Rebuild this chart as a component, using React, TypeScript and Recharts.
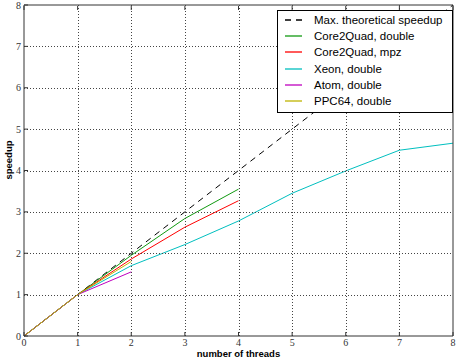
import React from 'react';
import { LineChart, Line, XAxis, YAxis } from 'recharts';

const threads = [0, 1, 2, 3, 4, 5, 6, 7, 8];
const theoretical = [0, 1, 2, 3, 4, 5, 6, 7, 8];
const core2quadDouble = [0, 1, 1.95, 2.84, 3.55];
const core2quadMpz = [0, 1, 1.86, 2.63, 3.27];
const xeonDouble = [0, 1, 1.7, 2.21, 2.78, 3.45, 3.99, 4.49, 4.66];
const atomDouble = [0, 1, 1.55];
const ppc64Double = [0, 1, 1.8];
const tickValues = [0, 1, 2, 3, 4, 5, 6, 7, 8];

const series = [
  { key: 'theo', name: 'Max. theoretical speedup', values: theoretical, color: '#000000', dash: '6 5' },
  { key: 'c2d', name: 'Core2Quad, double', values: core2quadDouble, color: '#119a11', dash: undefined },
  { key: 'c2m', name: 'Core2Quad, mpz', values: core2quadMpz, color: '#ff0000', dash: undefined },
  { key: 'xeon', name: 'Xeon, double', values: xeonDouble, color: '#00bfbf', dash: undefined },
  { key: 'atom', name: 'Atom, double', values: atomDouble, color: '#bf00bf', dash: undefined },
  { key: 'ppc', name: 'PPC64, double', values: ppc64Double, color: '#bfb400', dash: undefined },
];

const data = threads.map((t, i) => {
  const row: any = { t };
  series.forEach((s) => {
    row[s.key] = i < s.values.length ? s.values[i] : undefined;
  });
  return row;
});

const CHART_W = 458;
const CHART_H = 360;
const MARGIN = { top: 4, right: 4, left: 0, bottom: 0 };
const X_AXIS_H = 24;
const TOP_AXIS_H = 1;
const Y_AXIS_W = 24;
const RIGHT_AXIS_W = 1;
const PLOT_H = CHART_H - MARGIN.top - MARGIN.bottom - X_AXIS_H - TOP_AXIS_H;
const PLOT_W = CHART_W - MARGIN.left - MARGIN.right - Y_AXIS_W - RIGHT_AXIS_W;

const TICK_COLOR = '#333';
const FRAME = '#333';
const GRID = '#444';
const M = 3;
const isInner = (v: number) => v > tickValues[0] && v < tickValues[tickValues.length - 1];
const crisp = (v: number) => Math.round(v) + 0.5;

const BottomTick = (props: any) => {
  const { x, y, payload } = props;
  const axisY = y - M;
  const cx = crisp(x);
  return (
    <g>
      {isInner(payload.value) && (
        <path d={`M${cx},${axisY} L${cx},${axisY - PLOT_H}`} stroke={GRID} strokeWidth={1} strokeDasharray="1 2" fill="none" />
      )}
      <line x1={x} x2={x} y1={axisY} y2={axisY - 4} stroke={FRAME} strokeWidth={1} />
      <text x={x} y={y} dy="0.71em" textAnchor="middle" fontFamily="'Liberation Serif', serif" fontSize={10} fill={TICK_COLOR}>
        {payload.value}
      </text>
    </g>
  );
};

const LeftTick = (props: any) => {
  const { x, y, payload } = props;
  const axisX = x + M;
  const cy = crisp(y);
  return (
    <g>
      {isInner(payload.value) && (
        <path d={`M${axisX},${cy} L${axisX + PLOT_W},${cy}`} stroke={GRID} strokeWidth={1} strokeDasharray="1 2" fill="none" />
      )}
      <line x1={axisX} x2={axisX + 4} y1={y} y2={y} stroke={FRAME} strokeWidth={1} />
      <text x={x} y={y} dy="0.355em" textAnchor="end" fontFamily="'Liberation Serif', serif" fontSize={10} fill={TICK_COLOR}>
        {payload.value}
      </text>
    </g>
  );
};

const TopTick = (props: any) => {
  const { x, y } = props;
  const axisY = y + M - 1 + TOP_AXIS_H;
  return <line x1={x} x2={x} y1={axisY} y2={axisY + 4} stroke={FRAME} strokeWidth={1} />;
};

const RightTick = (props: any) => {
  const { x, y } = props;
  const axisX = x - M;
  return <line x1={axisX} x2={axisX - 4} y1={y} y2={y} stroke={FRAME} strokeWidth={1} />;
};

const LegendBox = () => (
  <div
    style={{
      position: 'absolute',
      left: 277,
      top: 10,
      width: 176,
      height: 103,
      boxSizing: 'border-box',
      border: '1px solid #000',
      background: '#fff',
      paddingTop: 1,
      fontFamily: "'Liberation Sans', Arial, sans-serif",
      fontSize: 11.5,
      color: '#000',
    }}
  >
    {series.map((s) => (
      <div key={s.key} style={{ height: 16.2, display: 'flex', alignItems: 'center' }}>
        <svg width={17} height={6} style={{ marginLeft: 7, display: 'block' }}>
          <line x1={0} x2={17} y1={3} y2={3} stroke={s.color} strokeWidth={1.3} strokeDasharray={s.dash} />
        </svg>
        <span style={{ marginLeft: 12, whiteSpace: 'nowrap', lineHeight: '16px' }}>{s.name}</span>
      </div>
    ))}
  </div>
);

export default function App() {
  return (
    <div style={{ position: 'absolute', left: 0, top: 0, width: CHART_W, height: CHART_H, background: '#fff' }}>
      <LineChart width={CHART_W} height={CHART_H} data={data} margin={MARGIN}>
        <XAxis
          xAxisId={0}
          dataKey="t"
          type="number"
          domain={[0, 8]}
          ticks={tickValues}
          height={X_AXIS_H}
          tickSize={0}
          tickMargin={M}
          tickLine={false}
          axisLine={{ stroke: FRAME, strokeWidth: 1 }}
          tick={<BottomTick />}
          interval={0}
        />
        <XAxis
          xAxisId="top"
          orientation="top"
          dataKey="t"
          type="number"
          domain={[0, 8]}
          ticks={tickValues}
          height={TOP_AXIS_H}
          tickSize={0}
          tickMargin={M - 1}
          tickLine={false}
          axisLine={{ stroke: FRAME, strokeWidth: 1 }}
          tick={<TopTick />}
          interval={0}
        />
        <YAxis
          yAxisId={0}
          type="number"
          domain={[0, 8]}
          ticks={tickValues}
          width={Y_AXIS_W}
          tickSize={0}
          tickMargin={M}
          tickLine={false}
          axisLine={{ stroke: FRAME, strokeWidth: 1 }}
          tick={<LeftTick />}
          interval={0}
        />
        <YAxis
          yAxisId="right"
          orientation="right"
          type="number"
          domain={[0, 8]}
          ticks={tickValues}
          width={RIGHT_AXIS_W}
          tickSize={0}
          tickMargin={M}
          tickLine={false}
          axisLine={{ stroke: FRAME, strokeWidth: 1 }}
          tick={<RightTick />}
          interval={0}
        />
        {series.map((s) => (
          <Line
            key={s.key}
            xAxisId={0}
            yAxisId={0}
            dataKey={s.key}
            name={s.name}
            stroke={s.color}
            strokeWidth={1}
            strokeDasharray={s.dash}
            dot={false}
            activeDot={false}
            isAnimationActive={false}
            connectNulls={false}
          />
        ))}
        <text x={238.5} y={353} textAnchor="middle" dominantBaseline="central" fontFamily="'Liberation Sans', Arial, sans-serif" fontWeight="bold" fontSize={9.5} fill="#000">
          number of threads
        </text>
        <text x={8} y={160} textAnchor="middle" dominantBaseline="central" transform="rotate(-90 8 160)" fontFamily="'Liberation Sans', Arial, sans-serif" fontWeight="bold" fontSize={9.5} fill="#000">
          speedup
        </text>
      </LineChart>
      <LegendBox />
    </div>
  );
}
